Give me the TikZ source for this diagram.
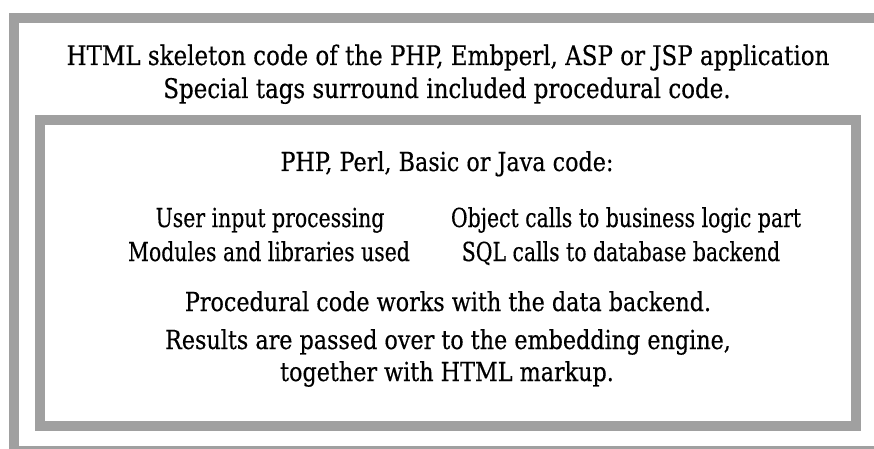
\documentclass[tikz,border=0pt]{standalone}
\usepackage{fontspec}
\setmainfont{DejaVu Serif}[FakeStretch=0.85,FakeBold=0.4]
\definecolor{framegray}{HTML}{A0A0A0}
% column entries are set a little narrower than the rest
\newcommand{\narrowtext}[1]{\scalebox{0.916}[1]{#1}}
\begin{document}
\begin{tikzpicture}[x=1pt,y=-1pt,
  frame/.style={draw=framegray,line width=10pt},
  txt/.style={anchor=base,inner sep=0pt,font=\fontsize{27}{30}\selectfont},
  intxt/.style={txt,font=\fontsize{26.2}{30}\selectfont}]
\useasboundingbox (0,0) rectangle (874,449);
% outer and inner frames
\draw[frame] (14,451) -- (14,18) -- (880,18);
\draw[frame] (14,451) -- (880,451);
\draw[frame] (40,120) rectangle (856,426);
% texts of the outer frame
\node[txt] (t1) at (448,65) {HTML skeleton code of the PHP, Embperl, ASP or JSP application};
\node[txt] (t2) at (447,98) {Special tags surround included procedural code.};
% texts of the inner frame
\node[intxt] (t3) at (447,171) {PHP, Perl, Basic or Java code:};
\node[intxt] (t4) at (270,227) {\narrowtext{User input processing}};
\node[intxt] (t5) at (626,227) {\narrowtext{Object calls to business logic part}};
\node[intxt] (t6) at (269,261) {\narrowtext{Modules and libraries used}};
\node[intxt] (t7) at (621,261) {\narrowtext{SQL calls to database backend}};
\node[intxt] (t8) at (448,311) {Procedural code works with the data backend.};
\node[intxt] (t9) at (448,349) {Results are passed over to the embedding engine,};
\node[intxt] (t10) at (447,381) {together with HTML markup.};
\end{tikzpicture}
\end{document}
